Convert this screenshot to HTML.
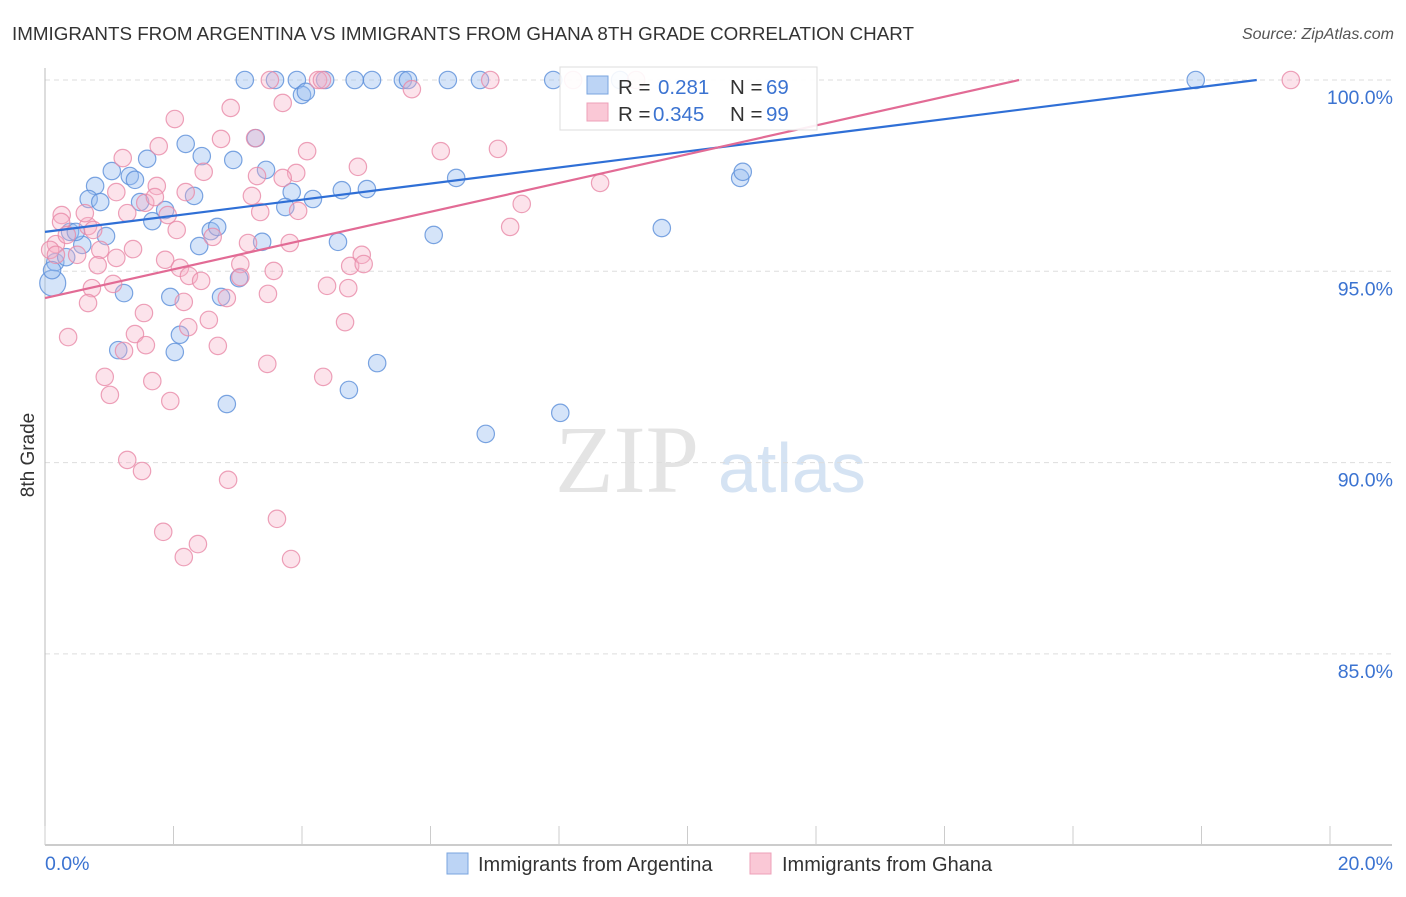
<!DOCTYPE html>
<html><head><meta charset="utf-8"><style>
body{margin:0;background:#fff;font-family:"Liberation Sans",sans-serif;}
</style></head><body>
<svg id="chart" width="1406" height="892" viewBox="0 0 1406 892" xmlns="http://www.w3.org/2000/svg">
<text x="12" y="40" font-size="18.8" fill="#333">IMMIGRANTS FROM ARGENTINA VS IMMIGRANTS FROM GHANA 8TH GRADE CORRELATION CHART</text>
<text x="1394" y="39" font-size="16" fill="#555" font-style="italic" text-anchor="end">Source: ZipAtlas.com</text>
<text transform="translate(34,455) rotate(-90)" font-size="19" fill="#333" text-anchor="middle">8th Grade</text>
<text x="555" y="492" font-size="96" fill="#e4e4e4" font-family="Liberation Serif,serif">ZIP</text>
<text x="718" y="492" font-size="70" fill="#d5e3f3">atlas</text>
<g id="grid"></g><g id="axes"></g><g id="pts"></g><g id="lines"></g>
<g>
<rect x="560" y="67" width="257" height="63" fill="#fff" fill-opacity="0.9" stroke="#ddd"/>
<rect x="587" y="76" width="21" height="18" fill="#bcd4f5" stroke="#7aa5df"/>
<rect x="587" y="103" width="21" height="18" fill="#fac8d6" stroke="#eea0b8"/>
<text y="94" font-size="20.5" fill="#333"><tspan x="618">R =</tspan><tspan x="658" fill="#3b73d1">0.281</tspan><tspan x="730">N =</tspan><tspan x="766" fill="#3b73d1">69</tspan></text>
<text y="121" font-size="20.5" fill="#333"><tspan x="618">R =</tspan><tspan x="653" fill="#3b73d1">0.345</tspan><tspan x="730">N =</tspan><tspan x="766" fill="#3b73d1">99</tspan></text>
</g>
<g>
<rect x="447" y="853" width="21" height="21" fill="#bcd4f5" stroke="#7aa5df"/>
<text x="478" y="871" font-size="20" fill="#333">Immigrants from Argentina</text>
<rect x="750" y="853" width="21" height="21" fill="#fac8d6" stroke="#eea0b8"/>
<text x="782" y="871" font-size="20" fill="#333">Immigrants from Ghana</text>
</g>
</svg>
<script>
const xTicks=[0,2,4,6,8,10,12,14,16,18,20];
const yTicks=[100,95,90,85];
const yTickLabels=["100.0%","95.0%","90.0%","85.0%"];
const blueX=[3.11,3.58,3.92,4.36,4.82,5.09,5.57,5.65,6.27,6.77,7.91,8.95,17.91,4.00,4.06,3.28,2.19,1.59,2.44,2.93,1.04,3.44,1.32,1.40,0.78,2.32,3.84,4.62,5.01,6.40,10.82,10.86,0.68,0.86,1.48,4.17,3.74,1.87,1.67,2.58,2.68,0.39,0.95,0.58,2.40,3.38,4.56,6.05,9.60,0.16,0.33,0.12,1.23,1.95,2.74,3.02,2.10,1.14,2.02,5.17,4.73,2.83,8.02,6.86,0.11,0.48];
const blueY=[100,100,100,100,100,100,100,100,100,100,100,100,100,99.61,99.69,98.48,98.33,97.94,98.01,97.91,97.62,97.65,97.49,97.39,97.23,96.97,97.07,97.12,97.15,97.44,97.44,97.60,96.89,96.81,96.81,96.89,96.68,96.60,96.31,96.05,96.16,96.03,95.92,95.69,95.66,95.77,95.77,95.95,96.13,95.24,95.37,94.69,94.43,94.33,94.33,94.82,93.34,92.94,92.89,92.60,91.90,91.53,91.30,90.75,95.03,96.03];
const pinkX=[3.50,4.25,4.31,6.93,8.22,9.20,19.39,5.71,3.70,2.89,2.02,3.27,2.74,1.77,6.16,7.05,1.21,4.08,2.47,4.87,8.64,3.30,1.11,1.74,3.91,3.70,0.26,0.25,0.67,0.62,0.86,1.11,0.17,0.08,0.75,0.50,1.37,0.82,0.73,1.06,0.67,1.87,2.10,2.24,2.43,2.16,3.04,3.04,3.56,3.94,3.35,3.81,3.16,2.61,2.05,1.91,1.56,1.28,1.71,7.42,7.24,4.75,4.93,4.96,4.72,4.39,3.47,2.83,1.54,1.40,2.23,2.55,1.57,2.69,0.36,0.93,1.01,1.23,1.67,1.95,3.46,4.33,4.67,1.28,1.51,2.85,1.84,2.16,2.38,3.61,3.83,2.19,3.22,0.34,0.17];
const pinkY=[100,100,100,100,100,100,100,99.76,99.40,99.27,98.98,98.48,98.46,98.27,98.14,98.20,97.96,98.14,97.60,97.73,97.31,97.49,97.07,97.23,97.57,97.44,96.47,96.29,96.18,96.52,95.56,95.35,95.71,95.56,96.08,95.43,95.58,95.16,94.56,94.67,94.17,95.30,95.09,94.88,94.75,94.20,95.19,94.85,95.01,96.58,96.55,95.74,95.74,95.90,96.08,96.47,96.79,96.52,96.94,96.76,96.16,95.14,95.43,95.19,94.56,94.62,94.41,94.30,93.91,93.36,93.54,93.73,93.07,93.05,93.28,92.24,91.77,92.92,92.13,91.61,92.58,92.24,93.67,90.07,89.78,89.55,88.19,87.53,87.87,88.53,87.48,97.07,96.97,95.95,95.43];
const blueTrend=[96.03,0.2105];
const pinkTrend=[94.30,0.376];
const NS="http://www.w3.org/2000/svg";
const X=v=>45+v*64.25, Y=v=>80+(100-v)*38.26;
function mk(t,a,p){const e=document.createElementNS(NS,t);for(const k in a)e.setAttribute(k,a[k]);p.appendChild(e);return e;}
const grid=document.getElementById('grid'),axes=document.getElementById('axes'),pts=document.getElementById('pts'),lines=document.getElementById('lines');
yTicks.forEach((t,i)=>{
 const g=mk('line',{x1:45,x2:1392,y1:Y(t),y2:Y(t),stroke:'#ddd','stroke-dasharray':'5,4'},grid);
 
 
 const l=mk('text',{x:1393,y:Y(t)+24,'font-size':19.5,fill:'#3b73d1','text-anchor':'end'},axes);
 l.textContent=yTickLabels[i];
 
 
});
const ya=mk('line',{x1:45,x2:45,y1:68,y2:845,stroke:'#bbb'},axes);


const xa=mk('line',{x1:45,x2:1392,y1:845,y2:845,stroke:'#bbb','stroke-width':1.5},axes);


xTicks.forEach(t=>{
 const k=mk('line',{x1:X(t),x2:X(t),y1:826,y2:845,stroke:'#ccc'},axes);
 
 
});
const xl0=mk('text',{x:45,y:870,'font-size':19.5,fill:'#3b73d1'},axes);xl0.textContent=xTicks[0].toFixed(1)+'%';


const xl1=mk('text',{x:1393,y:870,'font-size':19.5,fill:'#3b73d1','text-anchor':'end'},axes);xl1.textContent=xTicks[xTicks.length-1].toFixed(1)+'%';


blueX.forEach((x,i)=>{
 const c=mk('circle',{cx:X(x),cy:Y(blueY[i]),r:i==51?13:8.7,fill:'rgba(150,188,240,0.4)',stroke:'#5b8fd9','stroke-opacity':0.8,'stroke-width':1.2},pts);
 
 
});
pinkX.forEach((x,i)=>{
 const c=mk('circle',{cx:X(x),cy:Y(pinkY[i]),r:8.7,fill:'rgba(245,175,198,0.35)',stroke:'#e88aa8','stroke-opacity':0.8,'stroke-width':1.2},pts);
 
 
});
function trend(tr,col,name){
 const xe=Math.min(20,(100-tr[0])/tr[1]);
 const l=mk('line',{x1:X(0),y1:Y(tr[0]),x2:X(xe),y2:Y(tr[0]+tr[1]*xe),stroke:col,'stroke-width':2.2},lines);
 
 
}
trend(blueTrend,'#2f6fd6','trendline-argentina');
trend(pinkTrend,'#e26b95','trendline-ghana');
</script>
</body></html>
